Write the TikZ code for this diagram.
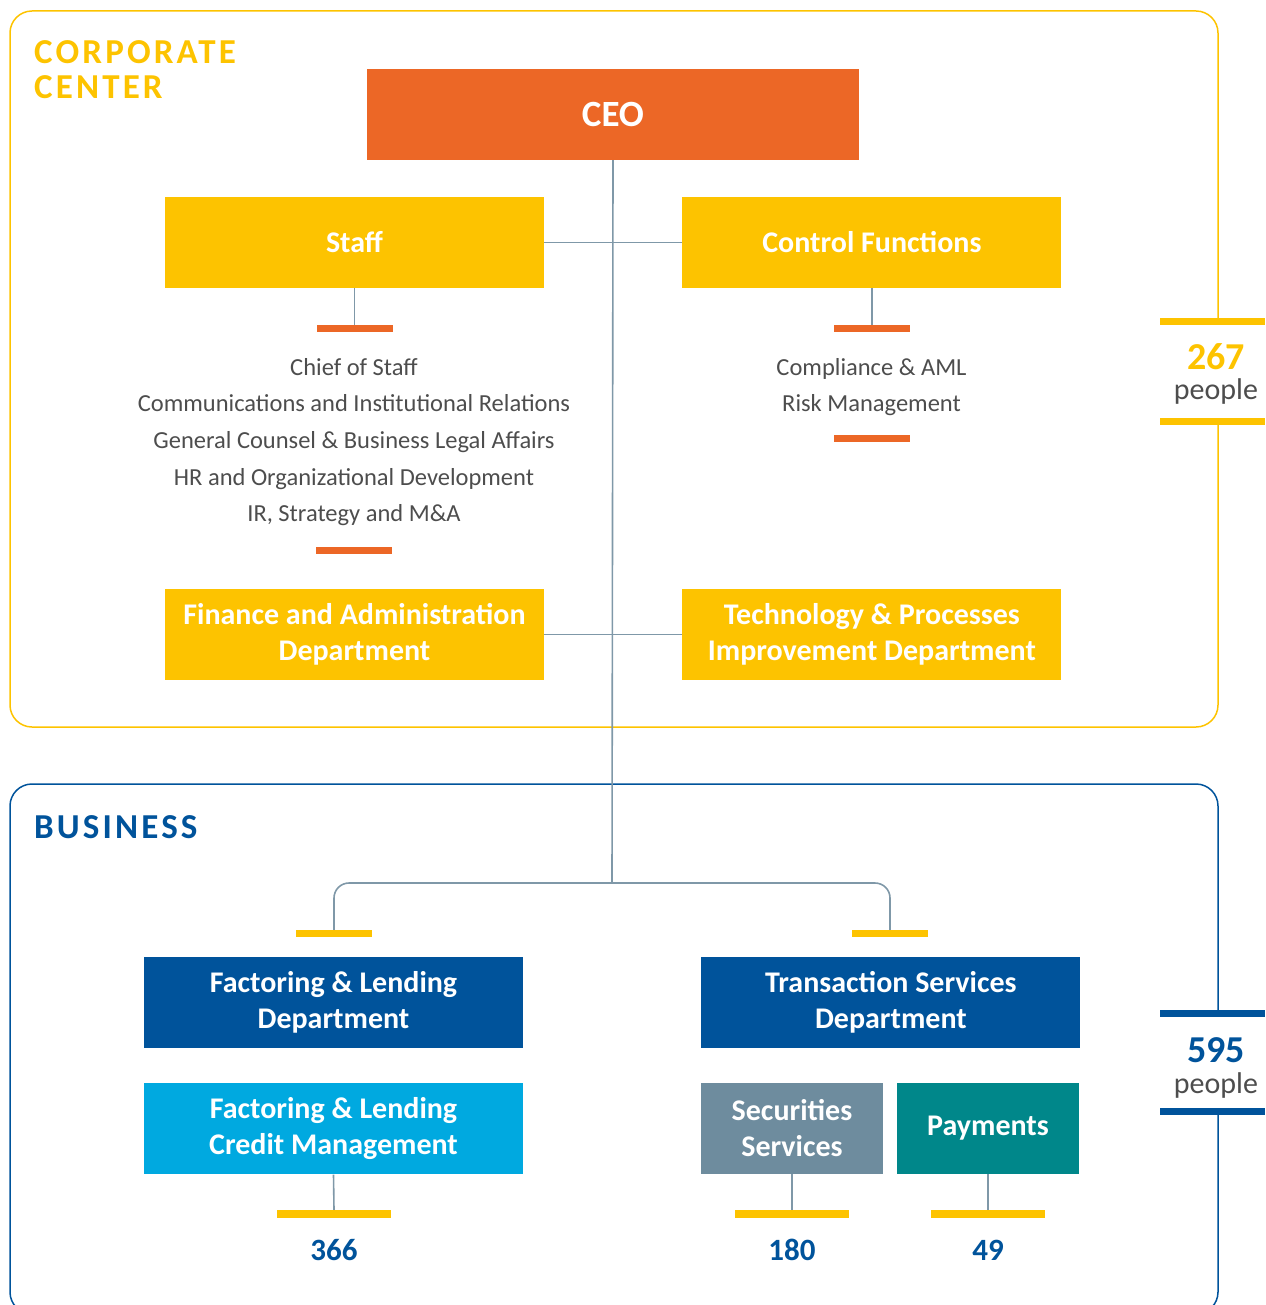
\documentclass[tikz,border=0pt]{standalone}
\usepackage{fontspec}
\setmainfont{Carlito}
\usetikzlibrary{positioning}
\definecolor{ceocolor}{HTML}{EC6726}
\definecolor{corpcolor}{HTML}{FDC300}
\definecolor{bizcolor}{HTML}{00539B}
\definecolor{credcolor}{HTML}{00A9E0}
\definecolor{seccolor}{HTML}{6E8C9E}
\definecolor{paycolor}{HTML}{00878A}
\definecolor{linkcolor}{HTML}{7F98A8}
\definecolor{txtcolor}{HTML}{4D4D4D}

\begin{document}
\begin{tikzpicture}[%
    x=1pt, y=-1pt,               % pixel grid, top-down
    node distance=35pt and 138pt,
    every node/.style={inner sep=0pt},
    ]
\tikzset{
  base/.style={minimum height=91pt, align=center, text=white, font=\fontsize{30}{36}\selectfont\bfseries},
  wide/.style={base, minimum width=379pt},
  half/.style={base, minimum width=182pt},
  corp/.style={wide, fill=corpcolor},
  biz/.style={wide, fill=bizcolor},
  tick/.style={minimum width=76pt, minimum height=7pt, fill=ceocolor},
  ytick/.style={minimum width=76pt, minimum height=7pt, fill=corpcolor},
  ltick/.style={minimum width=114pt, minimum height=8pt, fill=corpcolor},
  ptick/.style={minimum width=105pt, minimum height=7pt},
  list/.style={align=center, text=txtcolor, font=\fontsize{24.5}{36.7}\selectfont},
  count/.style={text=bizcolor, font=\fontsize{31}{31}\selectfont\bfseries},
  total/.style={font=\fontsize{38}{38}\selectfont\bfseries},
  people/.style={text=txtcolor, font=\fontsize{30}{30}\selectfont},
  link/.style={draw=linkcolor, line width=1.6pt},
  title/.style={anchor=north west, align=left, font=\fontsize{35}{35}\selectfont\bfseries\addfontfeatures{LetterSpace=9}},
}
\clip (0,0) rectangle (1265,1305);

% frames
\draw [corpcolor, line width=1.5pt, rounded corners=22pt]
  (1218,321) -- (1218,11) -- (10,11) -- (10,727) -- (1218,727) -- (1218,421);
\draw [bizcolor, line width=1.5pt, rounded corners=22pt]
  (1218,1013) -- (1218,784) -- (10,784) -- (10,1314) -- (1218,1314) -- (1218,1111);
\node [title, text=corpcolor] (corptitle) at (34,40) {CORPORATE\\CENTER};
\node [title, text=bizcolor] (biztitle) at (34,815) {BUSINESS};

% corporate center
\node [base, fill=ceocolor, minimum width=492pt, font=\fontsize{37}{37}\selectfont\bfseries] (ceo) at (613,114.5) {CEO};
\node [corp] (staff) at (354.5,242.5) {Staff};
\node [corp, right=of staff] (control) {Control Functions};
\node [corp] (finance) at (354.5,634.5) {Finance and Administration\\Department};
\node [corp, right=of finance] (tech) {Technology \& Processes\\Improvement Department};

\node [tick, below=37pt of staff] (stafftop) {};
\node [list] (stafflist) at (354,442) {Chief of Staff\\Communications and Institutional Relations\\General Counsel \& Business Legal Affairs\\HR and Organizational Development\\IR, Strategy and M\&A};
\node [tick] (staffend) at (354,550.5) {};
\node [tick, below=37pt of control] (controltop) {};
\node [list] (controllist) at (871.5,387) {Compliance \& AML\\Risk Management};
\node [tick] (controlend) at (871.5,438.5) {};

\node [ptick, fill=corpcolor] (corptop) at (1212.5,321.5) {};
\node [ptick, fill=corpcolor] (corpend) at (1212.5,421) {};
\node [total, text=corpcolor] (corpnum) at (1216,357) {267};
\node [people] (corppeople) at (1216,392) {people};

% business
\coordinate (split) at (612,883);
\node [ytick] (flendtop) at (334,933.5) {};
\node [ytick] (transtop) at (890,933.5) {};
\node [biz] (flend) at (333.5,1002.5) {Factoring \& Lending\\Department};
\node [biz, right=178pt of flend] (trans) {Transaction Services\\Department};
\node [wide, fill=credcolor, below=of flend] (fcred) {Factoring \& Lending\\Credit Management};
\node [half, fill=seccolor] (sec) at (792,1128.5) {Securities\\Services};
\node [half, fill=paycolor] (pay) at (988,1128.5) {Payments};

\node [ltick] (fcredend) at (334,1214) {};
\node [ltick] (secend) at (792,1214) {};
\node [ltick] (payend) at (988,1214) {};
\node [count] (fcrednum) at (334,1250) {366};
\node [count] (secnum) at (792,1250) {180};
\node [count] (paynum) at (988,1250) {49};

\node [ptick, fill=bizcolor] (biztop) at (1212.5,1013.5) {};
\node [ptick, fill=bizcolor] (bizend) at (1212.5,1111.5) {};
\node [total, text=bizcolor] (biznum) at (1216,1050) {595};
\node [people] (bizpeople) at (1216,1085) {people};

%connect
\draw [link] (ceo.south) -- (split);
\draw [link] (staff.east) -- (control.west);
\draw [link] (finance.east) -- (tech.west);
\draw [link] (staff.south) -- (stafftop.north);
\draw [link] (control.south) -- (controltop.north);
\draw [link, rounded corners=15pt] (flendtop.north) |- (split) -| (transtop.north);
\draw [link] (fcred.south) -- (fcredend.north);
\draw [link] (sec.south) -- (secend.north);
\draw [link] (pay.south) -- (payend.north);

\end{tikzpicture}
\end{document}
